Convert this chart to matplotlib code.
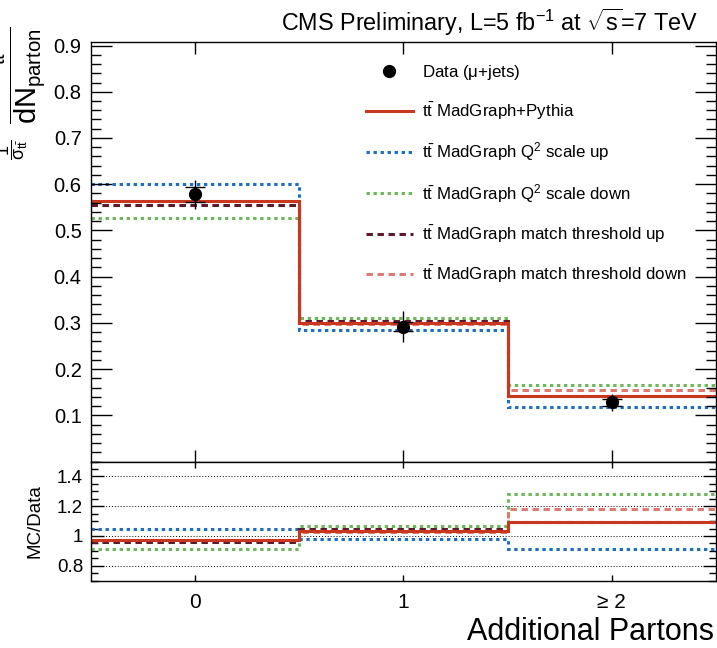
import matplotlib
matplotlib.use("Agg")
import matplotlib.pyplot as plt
from matplotlib.ticker import MultipleLocator, FixedLocator
from matplotlib.lines import Line2D

plt.rcParams["font.family"] = ["Liberation Sans", "DejaVu Sans"]
plt.rcParams["mathtext.fontset"] = "custom"
plt.rcParams["mathtext.rm"] = "Liberation Sans"
plt.rcParams["mathtext.it"] = "Liberation Sans"   # ROOT style: no italics
plt.rcParams["mathtext.bf"] = "Liberation Sans:bold"

# --------------------------------------------------
# data
# --------------------------------------------------
bin_edges = [-0.5, 0.5, 1.5, 2.5]
bin_centers = [0, 1, 2]
tick_labels = ["0", "1", "≥ 2"]

data_vals = [0.578, 0.292, 0.128]
data_stat = [0.016, 0.009, 0.007]
data_tot = [0.031, 0.033, 0.019]

mg_nominal = [0.563, 0.300, 0.141]
q2_up = [0.600, 0.285, 0.118]
q2_down = [0.527, 0.311, 0.166]
match_up = [0.555, 0.305, 0.141]
match_down = [0.554, 0.298, 0.154]

ratio_nominal = [0.972, 1.033, 1.097]
ratio_q2_up = [1.044, 0.983, 0.912]
ratio_q2_down = [0.912, 1.066, 1.283]
ratio_match_up = [0.958, 1.049, 1.097]
ratio_match_down = [0.965, 1.030, 1.181]

TT = r"$\mathrm{t\bar{t}}$"

# label, values, ratio, colour, linestyle  (drawing order)
MC = [
    ("q2up", TT + r" MadGraph Q$^{2}$ scale up", q2_up, ratio_q2_up, "#1f6fbf", (0, (1.1, 1.2))),
    ("q2down", TT + r" MadGraph Q$^{2}$ scale down", q2_down, ratio_q2_down, "#6cb85a", (0, (1.1, 1.2))),
    ("mdown", TT + " MadGraph match threshold down", match_down, ratio_match_down, "#e07a70", (0, (2.1, 1.5))),
    ("mup", TT + " MadGraph match threshold up", match_up, ratio_match_up, "#5c1a2c", (0, (2.1, 1.5))),
    ("nom", TT + " MadGraph+Pythia", mg_nominal, ratio_nominal, "#c8371e", "-"),
]
LEGEND_ORDER = ["data", "nom", "q2up", "q2down", "mup", "mdown"]

W, H = 717, 648
fig = plt.figure(figsize=(W / 100, H / 100), dpi=100)


def fx(px):
    return px / W


def fy(py):
    return 1 - py / H


left, right = 90.7, 716.0
top_t, top_b = 42.3, 461.5
rat_b = 580.7
ax = fig.add_axes([fx(left), fy(top_b), fx(right - left), (top_b - top_t) / H])
rax = fig.add_axes([fx(left), fy(rat_b), fx(right - left), (rat_b - top_b) / H], sharex=ax)

handles = {}
for key, label, vals, rvals, color, ls in MC:
    ax.stairs(vals, bin_edges, baseline=None, color=color, linestyle=ls, linewidth=2.2)
    rax.stairs(rvals, bin_edges, baseline=None, color=color, linestyle=ls, linewidth=2.2)
    handles[key] = Line2D([], [], color=color, linestyle=ls, linewidth=2.2, label=label)

# data: total error (no caps) + stat error (caps) + markers
ax.errorbar(bin_centers, data_vals, yerr=data_tot, fmt="none", ecolor="black", elinewidth=1.0, capsize=0, zorder=5)
ax.errorbar(bin_centers, data_vals, yerr=data_stat, fmt="none", ecolor="black", elinewidth=1.0,
            capsize=7.5, capthick=1.0, zorder=5)
ax.plot(bin_centers, data_vals, "o", color="black", markersize=8.5, zorder=6)
handles["data"] = Line2D([], [], marker="o", color="black", linestyle="none", markersize=8.5,
                         label=r"Data ($\mu$+jets)")

ax.legend(handles=[handles[k] for k in LEGEND_ORDER], loc="upper left",
          bbox_to_anchor=(fx(366), fy(63)), bbox_transform=fig.transFigure,
          frameon=False, fontsize=12.2, handlelength=2.75, handletextpad=0.55,
          labelspacing=1.1, borderpad=0, borderaxespad=0)

# --------------------------------------------------
# axes styling (ROOT-like)
# --------------------------------------------------
ax.set_xlim(-0.5, 2.5)
ax.set_ylim(0, 0.907)
ax.yaxis.set_major_locator(FixedLocator([0.1, 0.2, 0.3, 0.4, 0.5, 0.6, 0.7, 0.8, 0.9]))
ax.yaxis.set_minor_locator(MultipleLocator(0.02))
ax.xaxis.set_major_locator(MultipleLocator(0.5))
ax.xaxis.set_minor_locator(MultipleLocator(0.1))
ax.tick_params(axis="both", which="both", direction="in", top=True, right=True, width=1.0, labelsize=14.5)
ax.tick_params(axis="y", which="major", length=15, pad=6.5)
ax.tick_params(axis="y", which="minor", length=7)
ax.tick_params(axis="x", which="major", length=8.6, labelbottom=False)
ax.tick_params(axis="x", which="minor", length=5)

rax.set_ylim(0.7, 1.5)
rax.yaxis.set_major_locator(FixedLocator([0.8, 1.0, 1.2, 1.4]))
rax.yaxis.set_minor_locator(MultipleLocator(0.05))
rax.set_yticklabels(["0.8", "1", "1.2", "1.4"])
rax.xaxis.set_major_locator(FixedLocator(bin_centers))
rax.xaxis.set_minor_locator(FixedLocator([]))
rax.set_xticklabels(tick_labels)
rax.tick_params(axis="both", which="both", direction="in", top=True, right=True, width=1.0)
rax.tick_params(axis="y", which="major", length=9.4, labelsize=13.5, pad=5.5)
rax.tick_params(axis="y", which="minor", length=5)
rax.tick_params(axis="x", which="major", length=4, labelsize=15, pad=9)
rax.grid(axis="y", which="major", color="black", linestyle=(0, (1, 2)), linewidth=0.7)
rax.set_axisbelow(True)

for a in (ax, rax):
    for s in a.spines.values():
        s.set_linewidth(1.0)

# --------------------------------------------------
# text
# --------------------------------------------------
fig.text(fx(698), fy(30.7), r"CMS Preliminary, L=5 fb$^{-1}$ at $\sqrt{\mathrm{s}}$=7 TeV",
         ha="right", va="baseline", fontsize=16.8)
fig.text(fx(714), fy(640), "Additional Partons", ha="right", va="baseline", fontsize=22)
fig.text(fx(35), fy(521.5), "MC/Data", rotation=90, ha="center", va="center", fontsize=13.5)
# y title: ROOT put it partly outside the canvas, as in the original
fig.text(fx(12), fy(160), r"$\dfrac{1}{\sigma_{\mathrm{t\bar{t}}}}$",
         rotation=90, ha="center", va="bottom", fontsize=13)
fig.text(fx(13), fy(124), r"$\dfrac{d\sigma_{\mathrm{t\bar{t}}}}{dN_{\mathrm{parton}}}$",
         rotation=90, ha="center", va="bottom", fontsize=21)

fig.savefig("out.png", dpi=100)
